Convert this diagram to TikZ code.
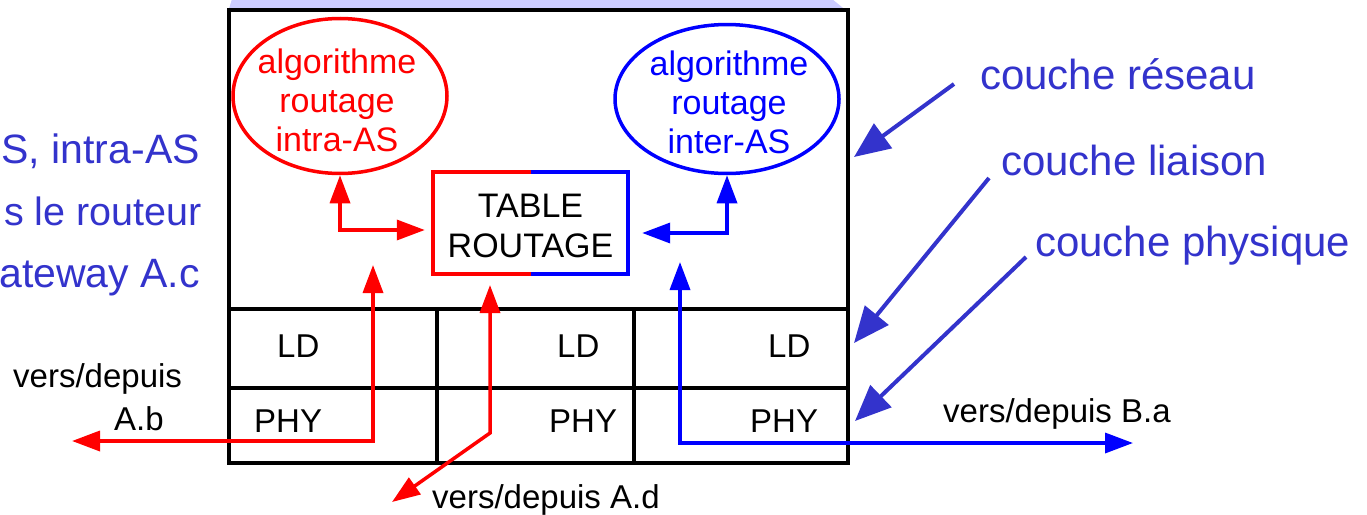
\documentclass[tikz,border=0pt]{standalone}
\usepackage{fontspec}
\setmainfont{Liberation Sans}
\usetikzlibrary{arrows.meta,shapes.geometric}
\definecolor{lab}{RGB}{51,51,204}
\definecolor{lav}{RGB}{204,204,255}
\begin{document}
\begin{tikzpicture}[x=1pt,y=-1pt,
  txt/.style={inner sep=0pt, font=\fontsize{33}{39}\selectfont},
  ttxt/.style={inner sep=0pt, font=\fontsize{34}{39}\selectfont},
  etxt/.style={inner sep=0pt, align=center, font=\fontsize{34}{39}\selectfont},
  lbl/.style={inner sep=0pt, text=lab, font=\fontsize{42}{50}\selectfont},
  lblleft/.style={inner sep=0pt, text=lab, font=\fontsize{41}{50}\selectfont},
  frame/.style={line width=4pt, draw=black},
  ell/.style={ellipse, line width=3.5pt, inner sep=0pt},
  dbl/.style={line width=3.5pt, arrows={Triangle[length=28pt,width=20pt]-Triangle[length=28pt,width=20pt]}},
  labarr/.style={draw=lab, line width=4pt, arrows={-Triangle[length=36pt,width=30pt]}}
]
\useasboundingbox (0,0) rectangle (1367,514);
% light shape behind the top of the box
\fill[lav] (228,12) -- (232,-1) -- (832,-1) -- (848,12) -- cycle;

% router frame
\fill[white] (229,10) rectangle (848,463);
\draw[frame] (229,10) rectangle (848,463);
\draw[frame] (229,309) -- (848,309);
\draw[frame] (229,388) -- (848,388);
\draw[frame] (437,309) -- (437,463);
\draw[frame] (634,309) -- (634,463);

% ellipses
\node[ell, draw=red, minimum width=214pt, minimum height=155pt] (intra) at (340,96) {};
\node[etxt, text=red] (intratxt) at (337,100) {algorithme\\routage\\intra-AS};
\node[ell, draw=blue, minimum width=224pt, minimum height=149pt] (inter) at (727,99) {};
\node[etxt, text=blue] (intertxt) at (729,102) {algorithme\\routage\\inter-AS};

% routing table
\node[minimum width=195pt, minimum height=102pt, inner sep=0pt] (table) at (530.5,223) {};
\draw[red, line width=3.5pt] (table.north) -| (table.south west) -- (table.south);
\draw[blue, line width=3.5pt] (table.north) -| (table.south east) -- (table.south);
\node[ttxt, anchor=base] (tab1) at (530.5,217) {TABLE};
\node[ttxt, anchor=base] (tab2) at (530.5,257) {ROUTAGE};

% cell labels
\node[txt, anchor=base west] (ld1) at (277,357) {LD};
\node[txt, anchor=base west] (ld2) at (557,357) {LD};
\node[txt, anchor=base west] (ld3) at (768,357) {LD};
\node[txt, anchor=base west] (phy1) at (254,432) {PHY};
\node[txt, anchor=base west] (phy2) at (549,432) {PHY};
\node[txt, anchor=base west] (phy3) at (750,432) {PHY};

% internal arrows
\draw[dbl, red] (intra.south) |- ([xshift=-8pt,yshift=-7pt]table.west);
\draw[dbl, blue] (inter.south) |- ([xshift=14pt,yshift=-10pt]table.east);

% external links
\coordinate (abtop) at (373,265);
\coordinate (abend) at (72,441);
\draw[dbl, red] (abtop) |- (abend);
\coordinate (adtop) at (490,285);
\coordinate (adbend) at (490,433);
\coordinate (adend) at (392,502);
\draw[dbl, red] (adtop) -- (adbend) -- (adend);
\coordinate (batop) at (680,262);
\coordinate (baend) at (1133,443);
\draw[dbl, blue] (batop) |- (baend);

\node[txt, anchor=base west] (vdb1) at (13,387) {vers/depuis};
\node[txt, anchor=base west] (vdb2) at (114,430) {A.b};
\node[txt, anchor=base west] (vdd) at (432,508) {vers/depuis A.d};
\node[txt, anchor=base west] (vdba) at (943,422) {vers/depuis B.a};

% left blue text
\node[lblleft, anchor=base east] (l1) at (200,163) {S, intra-AS};
\node[lblleft, anchor=base east, font=\fontsize{39.5}{50}\selectfont] (l2) at (202,225) {s le routeur};
\node[lblleft, anchor=base east] (l3) at (200,287) {ateway A.c};

% right blue labels
\node[lbl, anchor=base west] (reseau) at (980,89) {couche réseau};
\node[lbl, anchor=base west] (liaison) at (1001,175) {couche liaison};
\node[lbl, anchor=base west] (physique) at (1035,256) {couche physique};
\coordinate (r0) at (954,84);
\coordinate (r1) at (854,157);
\coordinate (s0) at (989,178);
\coordinate (s1) at (854,343);
\coordinate (p0) at (1026,257);
\coordinate (p1) at (855,421);
\draw[labarr] (r0) -- (r1);
\draw[labarr] (s0) -- (s1);
\draw[labarr] (p0) -- (p1);
\end{tikzpicture}
\end{document}
